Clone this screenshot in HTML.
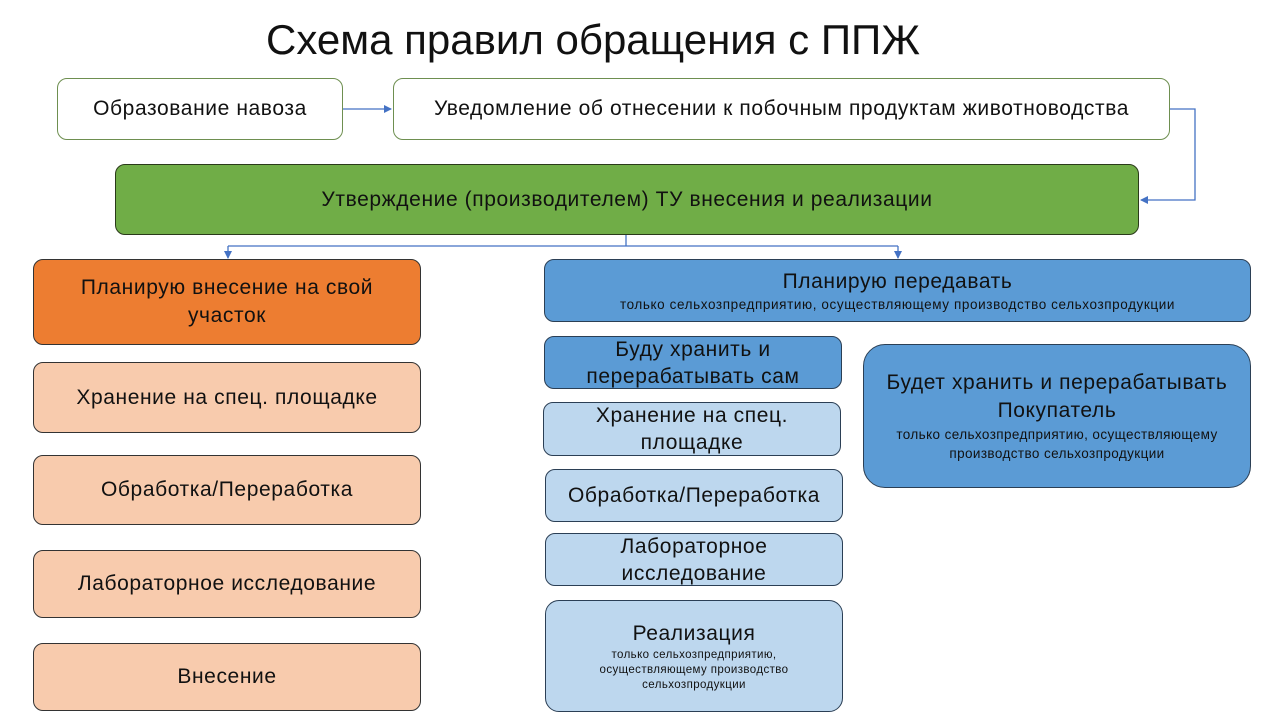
<!DOCTYPE html>
<html><head><meta charset="utf-8"><style>
body{margin:0;width:1286px;height:723px;background:#fff;position:relative;overflow:hidden;font-family:"Liberation Sans","DejaVu Sans",sans-serif;color:#111}
.b{position:absolute;box-sizing:border-box;display:flex;flex-direction:column;align-items:center;justify-content:center;text-align:center;border-radius:10px;border:1px solid #2a3a4a;font-size:21px;line-height:28px;letter-spacing:0.6px}
.w{background:#fff;border-color:#6e8f50}
.g{background:#70ad47;border-color:#2a3a1a}
.o{background:#ed7d31;border-color:#333}
.p{background:#f8cbad;border-color:#333}
.bl{background:#5b9bd5;border-color:#2b3f55}
.lb{background:#bdd7ee;border-color:#2b3f55}
.s{font-size:13.5px;line-height:18px;letter-spacing:0.6px}
svg{position:absolute;left:0;top:0}
</style></head><body>
<div style="position:absolute;left:266px;top:14px;font-size:42px;line-height:52px;">Схема правил обращения с ППЖ</div>
<svg width="1286" height="723">
<defs><marker id="a" markerWidth="8" markerHeight="8" refX="7" refY="4" orient="auto" markerUnits="userSpaceOnUse"><path d="M0,0L8,4L0,8z" fill="#4472c4"/></marker></defs>
<g stroke="#4472c4" stroke-width="1.3" fill="none">
<path d="M343,109H391" marker-end="url(#a)"/>
<path d="M1170,109H1195V200H1141" marker-end="url(#a)"/>
<path d="M626,234V246"/>
<path d="M228,246H898"/>
<path d="M228,246V258" marker-end="url(#a)"/>
<path d="M898,246V258" marker-end="url(#a)"/>
</g></svg>
<div class="b w" style="left:57px;top:78px;width:286px;height:62px">Образование навоза</div>
<div class="b w" style="left:393px;top:78px;width:777px;height:62px">Уведомление об отнесении к побочным продуктам животноводства</div>
<div class="b g" style="left:115px;top:164px;width:1024px;height:71px">Утверждение (производителем) ТУ внесения и реализации</div>
<div class="b o" style="left:33px;top:259px;width:388px;height:86px">Планирую внесение на свой<br>участок</div>
<div class="b p" style="left:33px;top:362px;width:388px;height:71px">Хранение на спец. площадке</div>
<div class="b p" style="left:33px;top:455px;width:388px;height:70px">Обработка/Переработка</div>
<div class="b p" style="left:33px;top:550px;width:388px;height:68px">Лабораторное исследование</div>
<div class="b p" style="left:33px;top:643px;width:388px;height:68px">Внесение</div>
<div class="b bl" style="left:544px;top:259px;width:707px;height:63px"><div>Планирую передавать</div><div class="s">только сельхозпредприятию, осуществляющему производство сельхозпродукции</div></div>
<div class="b bl" style="left:544px;top:336px;width:298px;height:53px;line-height:27px">Буду хранить и<br>перерабатывать сам</div>
<div class="b lb" style="left:543px;top:402px;width:298px;height:54px;line-height:27px">Хранение на спец.<br>площадке</div>
<div class="b lb" style="left:545px;top:469px;width:298px;height:53px">Обработка/Переработка</div>
<div class="b lb" style="left:545px;top:533px;width:298px;height:53px;line-height:27px">Лабораторное<br>исследование</div>
<div class="b lb" style="left:545px;top:600px;width:298px;height:112px;border-radius:14px"><div>Реализация</div><div class="s" style="font-size:11.5px;line-height:15px;letter-spacing:0.4px">только сельхозпредприятию,<br>осуществляющему производство<br>сельхозпродукции</div></div>
<div class="b bl" style="left:863px;top:344px;width:388px;height:144px;border-radius:22px"><div>Будет хранить и перерабатывать<br>Покупатель</div><div class="s" style="font-size:13.5px;line-height:19px;letter-spacing:0.4px">только сельхозпредприятию, осуществляющему<br>производство сельхозпродукции</div></div>
</body></html>
